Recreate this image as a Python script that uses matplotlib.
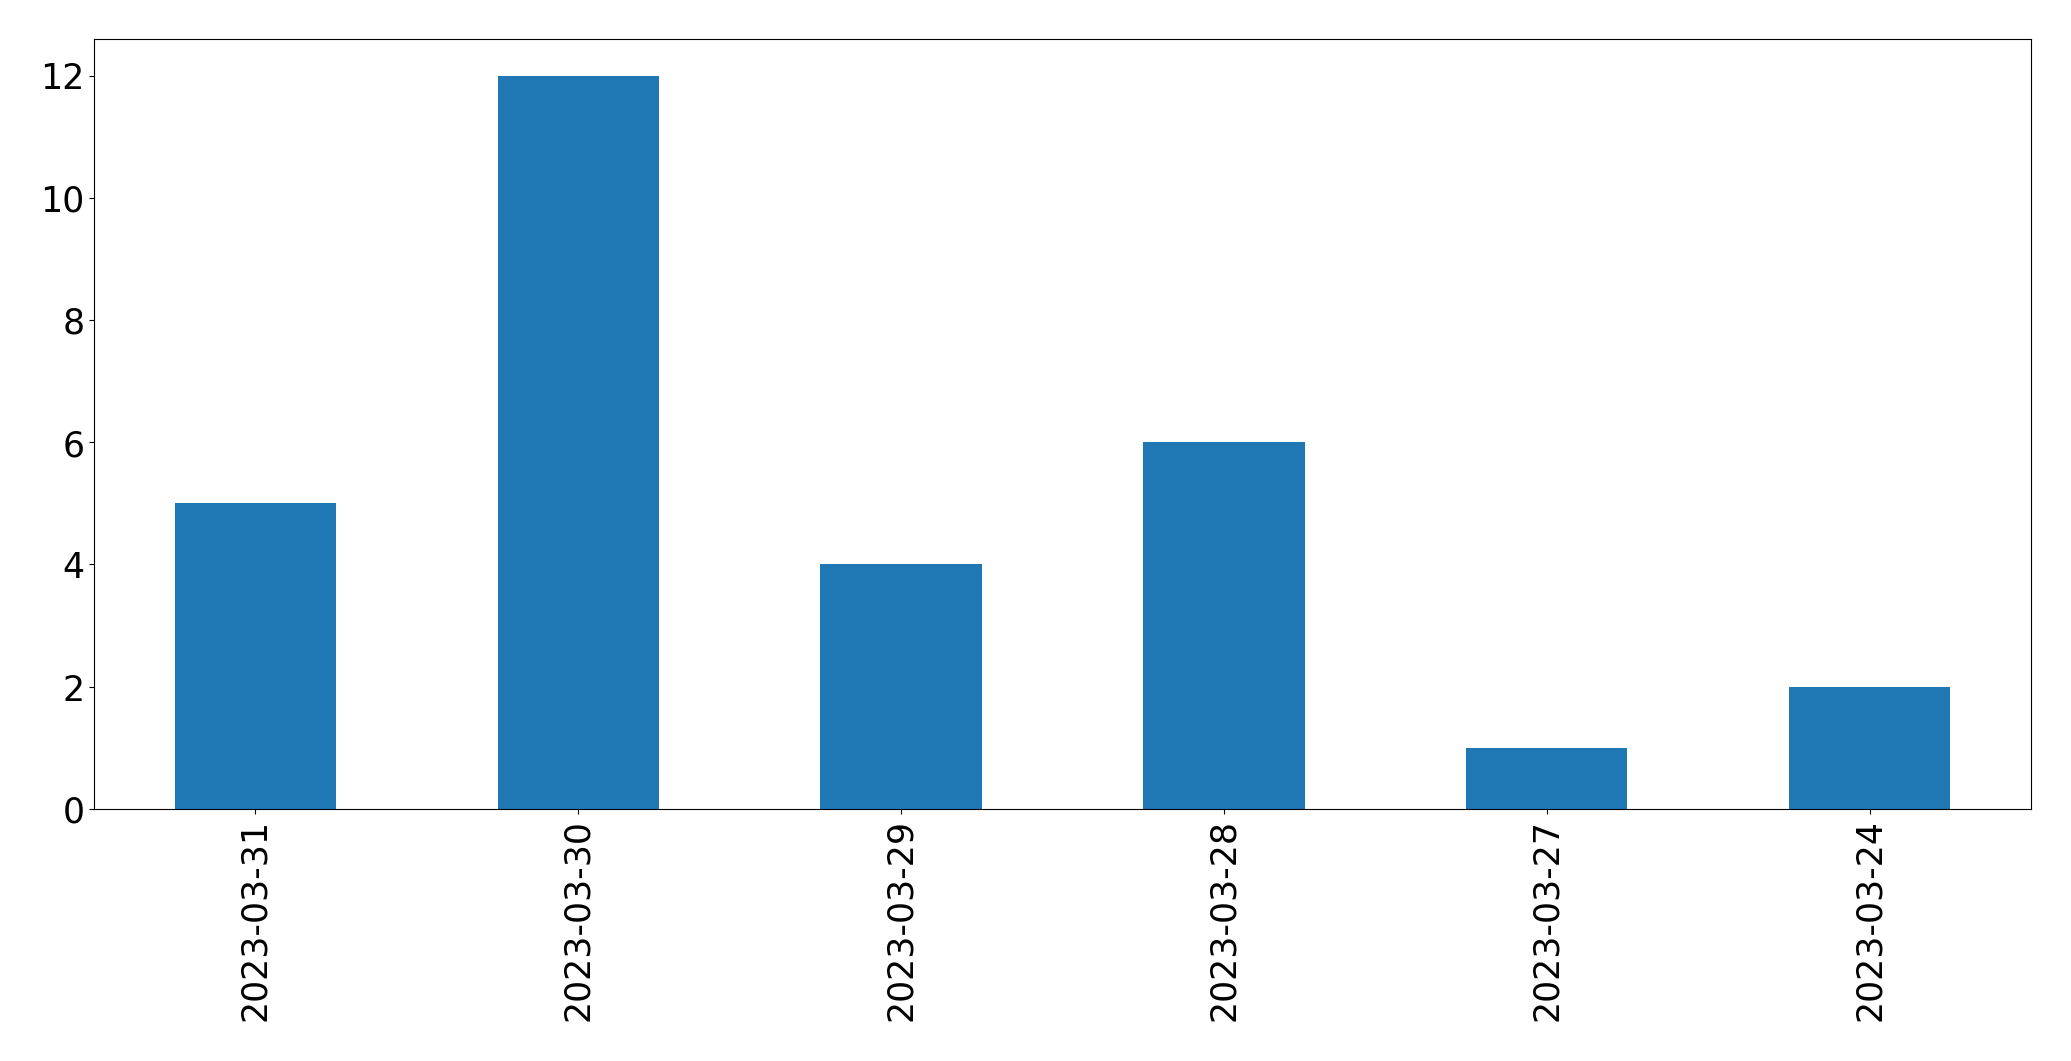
import matplotlib
matplotlib.use('Agg')
import matplotlib.pyplot as plt
import pandas as pd

dates = ['2023-03-31', '2023-03-30', '2023-03-29', '2023-03-28', '2023-03-27', '2023-03-24']
counts = [5, 12, 4, 6, 1, 2]

s = pd.Series(counts, index=dates)

fig = plt.figure(figsize=(20.71, 10.614), dpi=100)
ax = fig.add_axes([0.0454, 0.2375, 0.9353, 0.7255])
s.plot(kind='bar', ax=ax, color='#1f77b4', fontsize=25, linewidth=0)
ax.set_xlabel('')

fig.savefig('out.png', dpi=100)
